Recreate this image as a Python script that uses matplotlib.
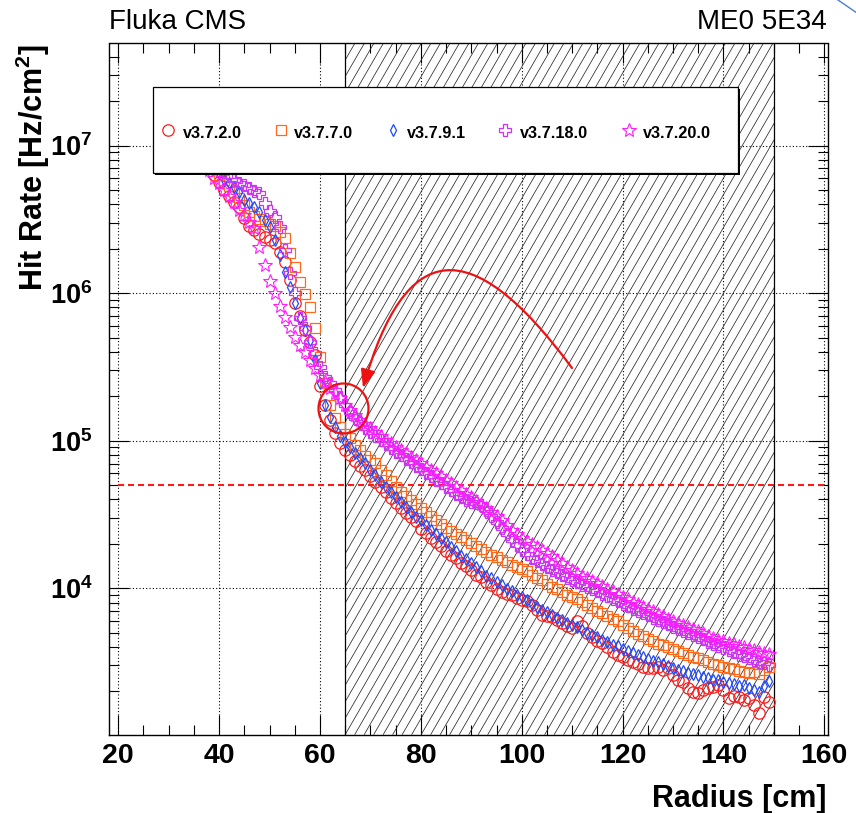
import numpy as np
import matplotlib
matplotlib.use("Agg")
import matplotlib.pyplot as plt
import matplotlib.transforms as mtransforms
from matplotlib.patches import Rectangle, Circle, FancyArrowPatch
from matplotlib.path import Path
from matplotlib.lines import Line2D
from matplotlib.collections import LineCollection
from matplotlib.ticker import MultipleLocator, LogLocator, FuncFormatter, NullFormatter

plt.rcParams['font.family'] = ['Liberation Sans', 'DejaVu Sans']
plt.rcParams['mathtext.fontset'] = 'custom'
plt.rcParams['mathtext.rm'] = 'Liberation Sans:bold'
plt.rcParams['mathtext.bf'] = 'Liberation Sans:bold'
plt.rcParams['mathtext.it'] = 'Liberation Sans:bold:italic'
plt.rcParams['mathtext.default'] = 'rm'

# ---------------------------------------------------------------- data
radius = list(range(37, 150))  # 1 cm bins [cm]

rate_v3720 = [  # v3.7.2.0
    9.32e6, 7.04e6, 6.31e6, 5.66e6, 4.99e6, 4.54e6, 4.14e6, 3.83e6, 3.23e6, 2.85e6,
    2.68e6, 2.52e6, 2.40e6, 2.29e6, 2.19e6, 1.90e6, 1.63e6, 1.23e6, 8.57e5, 6.99e5,
    5.62e5, 4.66e5, 3.81e5, 2.35e5, 1.75e5, 1.38e5, 1.13e5, 9.64e4, 8.65e4, 8.00e4,
    7.29e4, 6.74e4, 6.34e4, 5.77e4, 5.25e4, 4.86e4, 4.50e4, 4.10e4, 3.79e4, 3.50e4,
    3.24e4, 3.04e4, 2.86e4, 2.52e4, 2.37e4, 2.19e4, 2.05e4, 1.93e4, 1.79e4, 1.68e4,
    1.61e4, 1.49e4, 1.42e4, 1.33e4, 1.23e4, 1.19e4, 1.105e4, 1.055e4, 9.91e3, 9.43e3,
    9.14e3, 9.00e3, 8.59e3, 8.33e3, 8.20e3, 7.71e3, 7.13e3, 6.60e3, 6.49e3, 6.39e3,
    6.10e3, 5.82e3, 5.56e3, 5.38e3, 6.01e3, 5.56e3, 4.98e3, 4.68e3, 4.40e3, 4.27e3,
    4.01e3, 3.70e3, 3.53e3, 3.42e3, 3.27e3, 3.17e3, 3.07e3, 2.93e3, 2.89e3, 2.89e3,
    2.93e3, 2.79e3, 2.89e3, 2.58e3, 2.39e3, 2.32e3, 2.11e3, 1.99e3, 1.96e3, 2.05e3,
    2.11e3, 2.14e3, 2.21e3, 2.05e3, 1.81e3, 1.87e3, 1.84e3, 1.75e3, 1.81e3, 1.62e3,
    1.43e3, 1.84e3, 1.70e3,
]

rate_v3770 = [  # v3.7.7.0
    9.32e6, 7.98e6, 7.15e6, 6.31e6, 5.84e6, 5.32e6, 4.84e6, 4.40e6, 3.95e6, 3.55e6,
    3.33e6, 3.18e6, 3.08e6, 2.94e6, 2.85e6, 2.60e6, 2.37e6, 1.87e6, 1.51e6, 1.19e6,
    9.86e5, 8.05e5, 5.81e5, 3.69e5, 2.46e5, 1.75e5, 1.42e5, 1.24e5, 1.11e5, 1.04e5,
    9.34e4, 8.65e4, 7.88e4, 7.40e4, 7.06e4, 6.34e4, 5.86e4, 5.34e4, 4.86e4, 4.50e4,
    4.23e4, 3.97e4, 3.73e4, 3.50e4, 3.29e4, 3.09e4, 2.90e4, 2.72e4, 2.56e4, 2.44e4,
    2.33e4, 2.22e4, 2.12e4, 2.02e4, 1.93e4, 1.84e4, 1.76e4, 1.68e4, 1.63e4, 1.56e4,
    1.51e4, 1.44e4, 1.40e4, 1.36e4, 1.31e4, 1.23e4, 1.17e4, 1.14e4, 1.07e4, 1.02e4,
    9.91e3, 9.43e3, 9.00e3, 8.72e3, 8.46e3, 8.07e3, 7.71e3, 7.35e3, 7.02e3, 6.80e3,
    6.49e3, 6.20e3, 6.01e3, 5.64e3, 5.38e3, 5.14e3, 4.90e3, 4.75e3, 4.54e3, 4.40e3,
    4.20e3, 4.13e3, 4.01e3, 3.88e3, 3.76e3, 3.65e3, 3.53e3, 3.42e3, 3.37e3, 3.27e3,
    3.17e3, 3.07e3, 3.02e3, 2.93e3, 2.89e3, 2.84e3, 2.75e3, 2.70e3, 2.66e3, 2.70e3,
    2.62e3, 2.79e3, 2.93e3,
]

rate_v3791 = [  # v3.7.9.1
    9.32e6, 8.23e6, 7.27e6, 6.51e6, 5.84e6, 5.57e6, 5.24e6, 4.84e6, 4.27e6, 4.07e6,
    3.83e6, 3.55e6, 3.13e6, 2.81e6, 2.29e6, 1.81e6, 1.39e6, 1.10e6, 8.57e5, 6.78e5,
    5.62e5, 4.81e5, 3.52e5, 2.46e5, 1.75e5, 1.44e5, 1.24e5, 1.07e5, 9.79e4, 9.06e4,
    8.25e4, 7.64e4, 7.06e4, 6.34e4, 5.86e4, 5.25e4, 4.86e4, 4.50e4, 4.16e4, 3.85e4,
    3.56e4, 3.29e4, 3.04e4, 2.90e4, 2.68e4, 2.48e4, 2.33e4, 2.19e4, 2.05e4, 1.90e4,
    1.79e4, 1.66e4, 1.58e4, 1.49e4, 1.40e4, 1.31e4, 1.21e4, 1.17e4, 1.105e4, 1.055e4,
    9.91e3, 9.58e3, 9.00e3, 8.72e3, 8.33e3, 7.83e3, 7.47e3, 7.13e3, 6.91e3, 6.60e3,
    6.29e3, 6.10e3, 5.82e3, 5.64e3, 5.47e3, 5.22e3, 4.98e3, 4.83e3, 4.68e3, 4.47e3,
    4.33e3, 4.13e3, 4.07e3, 3.88e3, 3.76e3, 3.65e3, 3.53e3, 3.42e3, 3.32e3, 3.22e3,
    3.17e3, 3.07e3, 2.98e3, 2.89e3, 2.79e3, 2.75e3, 2.66e3, 2.62e3, 2.58e3, 2.50e3,
    2.46e3, 2.39e3, 2.39e3, 2.32e3, 2.28e3, 2.25e3, 2.18e3, 2.21e3, 2.11e3, 2.05e3,
    1.99e3, 2.18e3, 2.35e3,
]

rate_v37180 = [  # v3.7.18.0
    1.09e7, 8.49e6, 7.62e6, 7.04e6, 6.61e6, 6.21e6, 5.84e6, 5.57e6, 5.40e6, 5.15e6,
    4.91e6, 4.76e6, 4.07e6, 3.60e6, 3.28e6, 2.81e6, 1.96e6, 1.36e6, 1.00e6, 6.78e5,
    5.81e5, 4.66e5, 3.93e5, 3.16e5, 2.70e5, 2.46e5, 2.21e5, 1.98e5, 1.75e5, 1.56e5,
    1.42e5, 1.32e5, 1.22e5, 1.14e5, 1.07e5, 1.01e5, 9.49e4, 8.92e4, 8.38e4, 8.00e4,
    7.52e4, 7.17e4, 6.74e4, 6.43e4, 6.05e4, 5.77e4, 5.42e4, 5.17e4, 4.86e4, 4.64e4,
    4.36e4, 4.16e4, 3.97e4, 3.85e4, 3.79e4, 3.67e4, 3.39e4, 3.09e4, 2.81e4, 2.56e4,
    2.33e4, 2.12e4, 1.96e4, 1.82e4, 1.71e4, 1.61e4, 1.54e4, 1.47e4, 1.40e4, 1.33e4,
    1.29e4, 1.23e4, 1.17e4, 1.14e4, 1.105e4, 1.055e4, 1.02e4, 9.91e3, 9.58e3, 9.14e3,
    8.86e3, 8.46e3, 8.20e3, 7.83e3, 7.59e3, 7.24e3, 7.02e3, 6.80e3, 6.60e3, 6.29e3,
    6.10e3, 5.91e3, 5.73e3, 5.47e3, 5.30e3, 5.14e3, 4.98e3, 4.83e3, 4.68e3, 4.54e3,
    4.33e3, 4.20e3, 4.07e3, 3.95e3, 3.82e3, 3.70e3, 3.53e3, 3.48e3, 3.37e3, 3.27e3,
    3.17e3, 3.12e3, 3.02e3,
]

rate_v37200 = [  # v3.7.20.0
    9.32e6, 6.82e6, 6.02e6, 5.57e6, 4.99e6, 4.54e6, 4.14e6, 3.66e6, 3.39e6, 3.03e6,
    2.76e6, 2.05e6, 1.55e6, 1.21e6, 1.00e6, 8.18e5, 6.89e5, 5.90e5, 5.04e5, 4.45e5,
    3.99e5, 3.52e5, 3.11e5, 2.78e5, 2.50e5, 2.28e5, 2.11e5, 1.95e5, 1.75e5, 1.61e5,
    1.49e5, 1.38e5, 1.30e5, 1.22e5, 1.14e5, 1.07e5, 1.01e5, 9.64e4, 9.06e4, 8.65e4,
    8.25e4, 7.76e4, 7.40e4, 7.06e4, 6.63e4, 6.34e4, 6.05e4, 5.77e4, 5.42e4, 5.17e4,
    4.86e4, 4.64e4, 4.36e4, 4.16e4, 3.91e4, 3.73e4, 3.50e4, 3.29e4, 3.09e4, 2.90e4,
    2.68e4, 2.48e4, 2.33e4, 2.19e4, 2.09e4, 1.99e4, 1.90e4, 1.82e4, 1.74e4, 1.66e4,
    1.56e4, 1.49e4, 1.40e4, 1.33e4, 1.27e4, 1.21e4, 1.17e4, 1.12e4, 1.09e4, 1.04e4,
    9.91e3, 9.58e3, 9.14e3, 8.72e3, 8.46e3, 8.07e3, 7.83e3, 7.47e3, 7.24e3, 7.02e3,
    6.70e3, 6.49e3, 6.20e3, 6.01e3, 5.82e3, 5.64e3, 5.47e3, 5.30e3, 5.14e3, 4.98e3,
    4.75e3, 4.61e3, 4.47e3, 4.40e3, 4.27e3, 4.20e3, 4.07e3, 4.01e3, 3.88e3, 3.82e3,
    3.70e3, 3.65e3, 3.59e3,
]

labels = ['v3.7.2.0', 'v3.7.7.0', 'v3.7.9.1', 'v3.7.18.0', 'v3.7.20.0']
series = [rate_v3720, rate_v3770, rate_v3791, rate_v37180, rate_v37200]

shaded_range = (65, 150)     # cm
rate_limit = 5e4             # Hz/cm^2

# ---------------------------------------------------------------- style
styles = [
    dict(marker='o', ms=8.2, mec='#ff1a1a', mew=0.9),
    dict(marker='s', ms=7.6, mec='#ff6a1a', mew=0.9),
    dict(marker='d', ms=5.8, mec='#1f48ff', mew=0.9),
    dict(marker='P', ms=8.8, mec='#cc33f5', mew=0.9),
    dict(marker='*', ms=10.6, mec='#ff1aff', mew=0.8),
]

W, H, DPI = 856, 813, 100
fig = plt.figure(figsize=(W / DPI, H / DPI), dpi=DPI)
fig.patch.set_facecolor('white')

# pixel coordinates measured from the top-left corner of the canvas
pix = mtransforms.Affine2D().scale(1, -1).translate(0, H)

AX_L, AX_R, AX_T, AX_B = 109.0, 827.7, 43.5, 734.7
ax = fig.add_axes([AX_L / W, 1 - AX_B / H, (AX_R - AX_L) / W, (AX_B - AX_T) / H])
ax.set_yscale('log')
ax.set_xlim(18.16, 160.67)
ax.set_ylim(1.019e3, 4.91e7)

for sp in ax.spines.values():
    sp.set_linewidth(1.0)
    sp.set_color('black')

# ticks (inside, on all four sides)
ax.xaxis.set_major_locator(MultipleLocator(20))
ax.xaxis.set_minor_locator(MultipleLocator(5))
ax.yaxis.set_major_locator(LogLocator(base=10))
ax.yaxis.set_minor_locator(LogLocator(base=10, subs=np.arange(2, 10)))
ax.yaxis.set_minor_formatter(NullFormatter())
ax.yaxis.set_major_formatter(FuncFormatter(lambda v, p: r'$10^{%d}$' % int(round(np.log10(v)))))
ax.tick_params(which='both', direction='in', top=True, right=True, width=0.8, color='black')
ax.tick_params(which='major', length=14.4)
ax.tick_params(which='minor', length=7.0)
ax.tick_params(axis='x', which='major', labelsize=20.5, pad=6)
ax.tick_params(axis='y', which='major', labelsize=19.5, pad=12.0)
for lab in ax.get_xticklabels():
    lab.set_fontweight('bold')

# grid
ax.grid(True, which='major', color='black', linestyle=(0, (1, 2)), linewidth=0.8, zorder=1)
ax.set_axisbelow(True)

# shaded radial range with drawn hatching
ylo, yhi = ax.get_ylim()
x0, x1 = shaded_range
hatch_rect = Rectangle((x0, ylo), x1 - x0, yhi - ylo, facecolor='none', edgecolor='none')
ax.add_patch(hatch_rect)
(bx0, by0), (bx1, by1) = ax.transData.transform([[x0, ylo], [x1, yhi]])
spacing = 9.5
run = (by1 - by0) / np.tan(np.radians(60))
starts = np.arange(bx0 - run - spacing, bx1 + spacing, spacing)
segs = [[(s, by0), (s + run, by1)] for s in starts]
hatch = LineCollection(segs, colors='#2a2a2a', linewidths=0.55,
                       transform=mtransforms.IdentityTransform(), zorder=1.2)
ax.add_collection(hatch, autolim=False)
hatch.set_clip_path(hatch_rect.get_path(), hatch_rect.get_transform())
ax.axvline(x0, color='black', lw=0.9, zorder=1.3)
ax.axvline(x1, color='black', lw=0.9, zorder=1.3)

# rate limit line
ax.plot([20, 160], [rate_limit, rate_limit], color='#ff1a1a', lw=1.5,
        linestyle=(0, (2.9, 1.9)), zorder=2)

# data
for i, (vals, st) in enumerate(zip(series, styles)):
    ax.plot(radius, vals, linestyle='none', mfc='none', zorder=3 + i, **st)

# legend box
fig.add_artist(Rectangle((155, 89), 585, 86, transform=pix, facecolor='black',
                         edgecolor='none', zorder=4))
fig.add_artist(Rectangle((153, 87), 585, 86, transform=pix, facecolor='white',
                         edgecolor='black', lw=0.9, zorder=5))
mark_x = [168.3, 281.0, 393.3, 505.0, 629.0]
text_x = [182.7, 294.3, 407.3, 520.0, 643.3]
for mx, tx, lab, st in zip(mark_x, text_x, labels, styles):
    fig.add_artist(Line2D([mx], [130], transform=pix, linestyle='none', mfc='none',
                          zorder=6, **st))
    fig.text(tx, 138.3, lab, transform=pix, fontsize=11.7, fontweight='bold',
             ha='left', va='baseline', zorder=6)

# annotation: circle and curved arrow
fig.add_artist(Circle((343.5, 408.5), 25, transform=pix, facecolor='none',
                      edgecolor='#ee1111', lw=1.6, zorder=7))
arrow_path = Path([(572, 368), (470, 230), (405, 240), (363, 388)],
                  [Path.MOVETO, Path.CURVE4, Path.CURVE4, Path.CURVE4])
fig.add_artist(FancyArrowPatch(path=arrow_path, transform=pix,
                               arrowstyle='-|>,head_length=0.55,head_width=0.22',
                               mutation_scale=20, color='#ee1111', lw=1.6, zorder=7))

# texts
fig.text(109, 29, 'Fluka CMS', transform=pix, fontsize=20, ha='left', va='baseline')
fig.text(827, 29, 'ME0 5E34', transform=pix, fontsize=20, ha='right', va='baseline')
fig.text(826, 807, 'Radius [cm]', transform=pix, fontsize=22, fontweight='bold',
         ha='right', va='baseline')
fig.text(43.0, 44, r'Hit Rate [Hz/cm$^{2}$]', transform=pix, fontsize=22,
         fontweight='bold', rotation=90, rotation_mode='anchor', ha='right', va='baseline')

# connector fragment in the upper-right corner
fig.add_artist(Line2D([838, 857], [0, 13], transform=pix, color='#4a7fd0', lw=1.0))

fig.savefig('out.png', dpi=DPI, facecolor='white')
